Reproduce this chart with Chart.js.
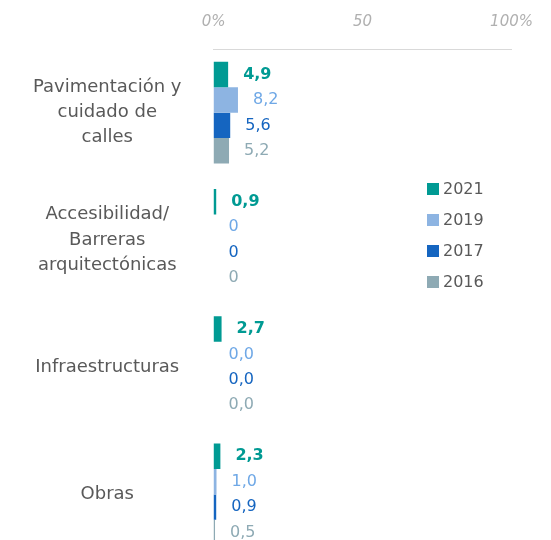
<!DOCTYPE html>
<html>
<head>
<meta charset="utf-8">
<script src="https://cdn.jsdelivr.net/npm/chart.js@4"></script>
<style>
  body { margin: 0; background: #fff; overflow: hidden; }
  #wrap { position: relative; width: 551px; height: 540px; overflow: hidden; }
  #leyenda { position: absolute; left: 427px; top: 176px; font-family: 'DejaVu Sans', sans-serif; font-size: 16px; color: #595959; }
  #leyenda div { height: 31px; line-height: 26px; }
  #leyenda span { display: inline-block; width: 12px; height: 12px; margin-right: 4px; vertical-align: -1px; }
</style>
</head>
<body>
<div id="wrap">
  <canvas id="grafico" width="551" height="558"></canvas>
  <div id="leyenda"></div>
</div>
<script>
// Categorías (eje Y)
const categorias = [
    ['Pavimentación y', 'cuidado de', 'calles'],
    ['Accesibilidad/', 'Barreras', 'arquitectónicas'],
    'Infraestructuras',
    'Obras'
];
const anios = ['2021', '2019', '2017', '2016'];

// Valores (%)
const valores2021 = [4.9, 0.9, 2.7, 2.3];
const valores2019 = [8.2, 0, 0, 1.0];
const valores2017 = [5.6, 0, 0, 0.9];
const valores2016 = [5.2, 0, 0, 0.5];

// Etiquetas tal como aparecen
const textos2021 = ['4,9', '0,9', '2,7', '2,3'];
const textos2019 = ['8,2', '0', '0,0', '1,0'];
const textos2017 = ['5,6', '0', '0,0', '0,9'];
const textos2016 = ['5,2', '0', '0,0', '0,5'];

const ticksX = [0, 50, 100];

const colores = ['#009a93', '#8db4e2', '#1565c0', '#8eaab4'];
const coloresTexto = ['#009a93', '#6fa8e6', '#1565c0', '#8eaab4'];

const series = [valores2021, valores2019, valores2017, valores2016];
const textos = [textos2021, textos2019, textos2017, textos2016];

const fuente = "'DejaVu Sans', sans-serif";

// leyenda en HTML
const ley = document.getElementById('leyenda');
anios.forEach((a, i) => {
    const d = document.createElement('div');
    d.innerHTML = '<span style="background:' + colores[i] + '"></span>' + a;
    ley.appendChild(d);
});

// dibuja los valores al final de cada barra
const etiquetasValor = {
    id: 'etiquetasValor',
    afterDatasetsDraw(chart) {
        const c = chart.ctx;
        c.save();
        c.textBaseline = 'middle';
        c.textAlign = 'left';
        chart.data.datasets.forEach((ds, i) => {
            const meta = chart.getDatasetMeta(i);
            c.fillStyle = coloresTexto[i];
            c.font = (i === 0 ? 'bold ' : '') + '16px ' + fuente;
            meta.data.forEach((bar, j) => {
                c.fillText(textos[i][j], bar.x + 15, bar.y);
            });
        });
        c.restore();
    }
};

new Chart(document.getElementById('grafico'), {
    type: 'bar',
    data: {
        labels: categorias,
        datasets: anios.map((a, i) => ({
            label: a,
            data: series[i],
            backgroundColor: colores[i],
            barPercentage: 1,
            categoryPercentage: 0.8
        }))
    },
    options: {
        indexAxis: 'y',
        responsive: false,
        animation: false,
        events: [],
        layout: { padding: { top: -5, right: 30, left: 1, bottom: 0 } },
        plugins: {
            legend: { display: false },
            tooltip: { enabled: false }
        },
        scales: {
            x: {
                position: 'top',
                min: 0,
                max: 100,
                afterBuildTicks: (axis) => { axis.ticks = ticksX.map(v => ({ value: v })); },
                grid: { display: false, drawTicks: false },
                border: { display: true, color: '#d9d9d9', width: 1 },
                ticks: {
                    padding: 18,
                    color: '#b0b0b0',
                    font: { size: 15, style: 'italic', family: fuente },
                    callback: (v) => (v === 0 || v === 100) ? v + '%' : v
                }
            },
            y: {
                grid: { display: false, drawTicks: false },
                border: { display: false },
                afterFit: (s) => { s.paddingTop = 0; s.paddingBottom = 0; },
                ticks: {
                    padding: 32,
                    crossAlign: 'center',
                    color: '#595959',
                    font: { size: 18, family: fuente, lineHeight: 1.4 }
                }
            }
        }
    },
    plugins: [etiquetasValor]
});
</script>
</body>
</html>
